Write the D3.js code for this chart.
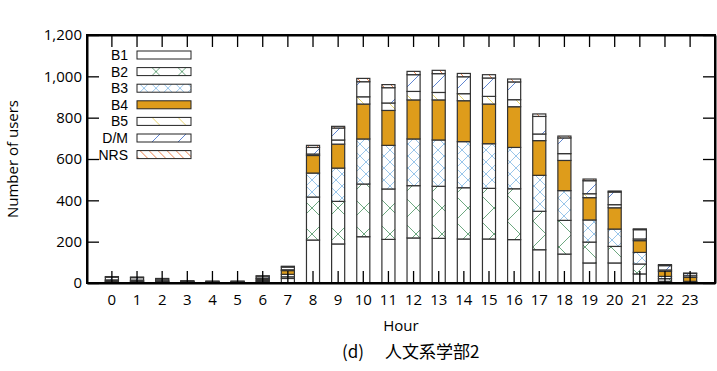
<!DOCTYPE html>
<html>
<head>
<meta charset="utf-8">
<script src="https://cdn.jsdelivr.net/npm/d3@7"></script>
<style>
  body { margin: 0; background: #fff; }
  text { font-family: "Open Sans", "Noto Sans", sans-serif; }
</style>
</head>
<body>
<div id="chart"></div>
<script>
// hours on the x axis
const hours = d3.range(0, 24);
const seriesNames = ["B1", "B2", "B3", "B4", "B5", "D/M", "NRS"];
const yTicks = [0, 200, 400, 600, 800, 1000, 1200];

// users per hour (stack order bottom -> top)
const b1  = [3, 3, 2, 2, 1, 1, 5, 22, 208, 189, 224, 211, 218, 216, 213, 213, 210, 161, 140, 97, 97, 44, 8, 3];
const b2  = [2, 2, 2, 1, 1, 1, 5, 8, 208, 206, 255, 244, 253, 252, 248, 245, 246, 186, 163, 101, 80, 48, 13, 2];
const b3  = [3, 2, 3, 2, 1, 1, 5, 12, 116, 161, 218, 211, 226, 224, 223, 216, 200, 174, 144, 107, 84, 56, 11, 3];
const b4  = [5, 5, 2, 1, 1, 1, 6, 18, 85, 116, 169, 169, 189, 194, 198, 192, 197, 168, 146, 108, 103, 57, 24, 19];
const b5  = [2, 2, 2, 1, 1, 1, 3, 4, 7, 20, 35, 36, 41, 36, 34, 37, 34, 32, 33, 19, 15, 8, 7, 8];
const dm  = [13, 12, 8, 3, 3, 3, 9, 13, 32, 58, 73, 74, 81, 91, 82, 89, 86, 85, 76, 63, 61, 45, 21, 11];
const nrs = [3, 3, 3, 1, 1, 1, 2, 4, 10, 8, 16, 15, 16, 16, 16, 16, 14, 12, 9, 8, 5, 4, 5, 2];

const seriesValues = [b1, b2, b3, b4, b5, dm, nrs];

const width = 717, height = 371;
const plotLeft = 87, plotRight = 715, plotTop = 35, plotBottom = 283;

const svg = d3.select("#chart")
  .append("svg")
  .attr("width", width)
  .attr("height", height);

// hatch patterns
const defs = svg.append("defs");

function hatch(id, size, color, paths, sw) {
  let p = defs.append("pattern")
    .attr("id", id)
    .attr("patternUnits", "userSpaceOnUse")
    .attr("width", size)
    .attr("height", size);
  p.append("rect").attr("width", size).attr("height", size).attr("fill", "white");
  p.append("path")
    .attr("d", paths)
    .attr("stroke", color)
    .attr("stroke-width", sw)
    .attr("fill", "none");
}

const cross = (s) => `M0,0L${s},${s}M${s},0L0,${s}`;
const back = (s) => `M0,0L${s},${s}M${-s / 2},${s / 2}L${s / 2},${s * 1.5}M${s / 2},${-s / 2}L${s * 1.5},${s / 2}`;
const fwd = (s) => `M0,${s}L${s},0M${-s / 2},${s / 2}L${s / 2},${-s / 2}M${s / 2},${s * 1.5}L${s * 1.5},${s / 2}`;

hatch("pB2", 26, "#5c9e72", cross(26), 0.9);
hatch("pB3", 12, "#8ebfe8", cross(12), 0.9);
hatch("pB5", 26, "#e4cf5e", back(26), 0.9);
hatch("pDM", 26, "#4f78cc", fwd(26), 0.9);
hatch("pNRS", 9, "#e8743b", back(9), 0.9);

const fills = ["white", "url(#pB2)", "url(#pB3)", "#de9c1b", "url(#pB5)", "url(#pDM)", "url(#pNRS)"];

const x = d3.scaleBand()
  .domain(hours)
  .range([plotLeft, plotRight])
  .paddingInner(0.48)
  .paddingOuter(0.73);

const y = d3.scaleLinear()
  .domain([0, 1200])
  .range([plotBottom, plotTop]);

// build the table for d3.stack
const table = hours.map((h, i) => {
  let row = { hour: h };
  seriesNames.forEach((name, k) => (row[name] = seriesValues[k][i]));
  return row;
});

const stacked = d3.stack().keys(seriesNames)(table);

svg.append("g")
  .selectAll("g")
  .data(stacked)
  .join("g")
  .attr("fill", (d, k) => fills[k])
  .selectAll("rect")
  .data((d) => d)
  .join("rect")
  .attr("x", (d) => x(d.data.hour))
  .attr("width", x.bandwidth())
  .attr("y", (d) => y(d[1]))
  .attr("height", (d) => y(d[0]) - y(d[1]))
  .attr("stroke", "#333")
  .attr("stroke-width", 1.2);

// axes, ticks pointing inward on all four sides
const fontSize = "15px";

let yAxis = svg.append("g")
  .attr("transform", `translate(${plotLeft},0)`)
  .call(d3.axisLeft(y).tickValues(yTicks).tickSize(-12).tickSizeOuter(0).tickPadding(5).tickFormat(d3.format(",")));

let yAxisR = svg.append("g")
  .attr("transform", `translate(${plotRight},0)`)
  .call(d3.axisRight(y).tickValues(yTicks).tickSize(-12).tickSizeOuter(0).tickFormat(""));

let xAxis = svg.append("g")
  .attr("transform", `translate(0,${plotBottom})`)
  .call(d3.axisBottom(x).tickSize(-12).tickSizeOuter(0).tickPadding(11));

let xAxisT = svg.append("g")
  .attr("transform", `translate(0,${plotTop})`)
  .call(d3.axisTop(x).tickSize(-12).tickSizeOuter(0).tickFormat(""));

[yAxis, yAxisR, xAxis, xAxisT].forEach((a) => {
  a.select(".domain").attr("stroke", "#000").attr("stroke-width", 2);
  a.selectAll(".tick line").attr("stroke", "#000").attr("stroke-width", 1.3);
  a.selectAll("text")
    .attr("fill", "#000")
    .style("font-family", "'Open Sans', sans-serif")
    .style("font-size", fontSize);
});

// close the frame
svg.append("rect")
  .attr("x", plotLeft)
  .attr("y", plotTop)
  .attr("width", plotRight - plotLeft)
  .attr("height", plotBottom - plotTop)
  .attr("fill", "none")
  .attr("stroke", "#000")
  .attr("stroke-width", 2);

svg.append("text")
  .attr("transform", `translate(18,${(plotTop + plotBottom) / 2}) rotate(-90)`)
  .attr("text-anchor", "middle")
  .style("font-size", fontSize)
  .text("Number of users");

svg.append("text")
  .attr("x", (plotLeft + plotRight) / 2)
  .attr("y", 331)
  .attr("text-anchor", "middle")
  .style("font-size", fontSize)
  .text("Hour");

// caption
const caption = svg.append("text")
  .attr("y", 358)
  .style("font-family", "'Noto Sans CJK JP', sans-serif")
  .style("font-size", "17px");
caption.append("tspan").attr("x", 342).text("(d)");
caption.append("tspan").attr("x", 385).text("人文系学部2");

// legend
const legend = svg.append("g")
  .selectAll("g")
  .data(seriesNames)
  .join("g")
  .attr("transform", (d, i) => `translate(0,${55 + i * 16.6})`);

legend.append("text")
  .attr("x", 128)
  .attr("dy", "0.36em")
  .attr("text-anchor", "end")
  .style("font-family", "'Liberation Sans', sans-serif")
  .style("font-size", "14px")
  .text((d) => d);

legend.append("rect")
  .attr("x", 137)
  .attr("y", -4)
  .attr("width", 54)
  .attr("height", 8)
  .attr("fill", (d, i) => fills[i])
  .attr("stroke", "#222")
  .attr("stroke-width", 1);
</script>
</body>
</html>
